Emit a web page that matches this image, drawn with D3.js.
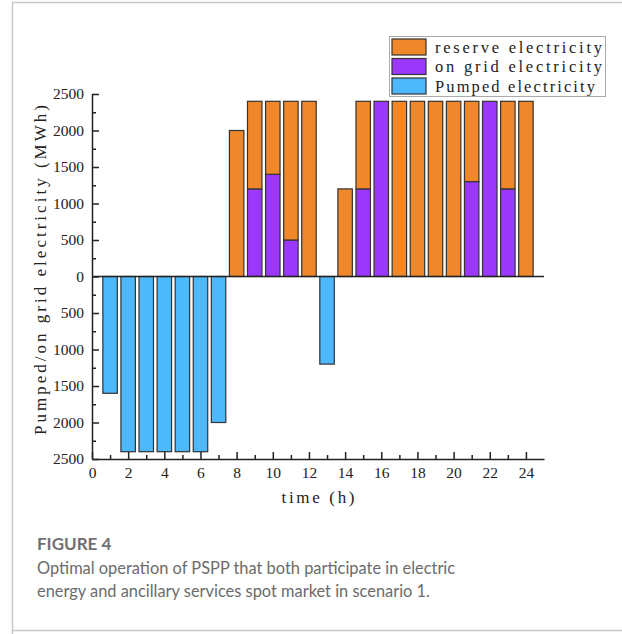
<!DOCTYPE html>
<html>
<head>
<meta charset="utf-8">
<script src="https://cdn.jsdelivr.net/npm/d3@7"></script>
<style>
  body { margin: 0; background: #fff; }
  svg { display: block; }
</style>
</head>
<body>
<svg id="chart" width="622" height="634"></svg>
<script>
// hourly values (MWh)
var hours = [1, 2, 3, 4, 5, 6, 7, 8, 9, 10, 11, 12, 13, 14, 15, 16, 17, 18, 19, 20, 21, 22, 23, 24];
var pumped = [-1600, -2400, -2400, -2400, -2400, -2400, -2000, 0, 0, 0, 0, 0, -1200, 0, 0, 0, 0, 0, 0, 0, 0, 0, 0, 0];
var onGrid = [0, 0, 0, 0, 0, 0, 0, 0, 1200, 1400, 500, 0, 0, 0, 1200, 2400, 0, 0, 0, 0, 1300, 2400, 1200, 0];
var reserve = [0, 0, 0, 0, 0, 0, 0, 2000, 1200, 1000, 1900, 2400, 0, 1200, 1200, 0, 2400, 2400, 2400, 2400, 1100, 0, 1200, 2400];
var xTicks = [0, 2, 4, 6, 8, 10, 12, 14, 16, 18, 20, 22, 24];
var yTicks = [-2500, -2000, -1500, -1000, -500, 0, 500, 1000, 1500, 2000, 2500];
var legendNames = ["reserve electricity", "on grid electricity", "Pumped electricity"];

var colors = { reserve: "#F0872A", onGrid: "#9B38FB", pumped: "#4DB8FC" };
var serifFont = "'Liberation Serif', 'DejaVu Serif', serif";

var svg = d3.select("#chart");

// figure frame
svg.append("path")
    .attr("d", "M12.5,634 V2.5 H622 M12.5,630.5 H622")
    .attr("fill", "none")
    .attr("stroke", "#c8c8c8")
    .attr("stroke-width", 1.5);

var x = d3.scaleLinear().domain([0, 25]).range([92, 544]);
var y = d3.scaleLinear().domain([-2500, 2500]).range([459, 94]);
var barW = x(0.8) - x(0);

var rows = hours.map(function(h, i) {
    return { hour: h, onGrid: onGrid[i], reserve: reserve[i], pumped: pumped[i] };
});
var stacked = d3.stack().keys(["onGrid", "reserve"])(rows);

var bars = svg.append("g").attr("stroke", "#333").attr("stroke-width", 1.2);

stacked.forEach(function(layer) {
    bars.selectAll(null)
        .data(layer.filter(d => d[1] - d[0] > 0))
        .enter().append("rect")
        .attr("x", d => x(d.data.hour) - barW / 2)
        .attr("width", barW)
        .attr("y", d => y(d[1]))
        .attr("height", d => y(d[0]) - y(d[1]))
        .attr("fill", colors[layer.key]);
});

bars.selectAll(null)
    .data(rows.filter(d => d.pumped < 0))
    .enter().append("rect")
    .attr("x", d => x(d.hour) - barW / 2)
    .attr("width", barW)
    .attr("y", y(0))
    .attr("height", d => y(d.pumped) - y(0))
    .attr("fill", colors.pumped);

// zero line
svg.append("line")
    .attr("x1", x(0)).attr("x2", x(25))
    .attr("y1", y(0)).attr("y2", y(0))
    .attr("stroke", "#222").attr("stroke-width", 1.5);

// y axis, ticks point inward
svg.append("g")
    .attr("transform", "translate(" + x(0) + ",0)")
    .call(d3.axisLeft(y).tickValues(yTicks).tickSizeInner(-7).tickSizeOuter(0)
        .tickPadding(8).tickFormat(d => Math.abs(d)));
svg.append("g")
    .attr("transform", "translate(" + x(0) + ",0)")
    .call(d3.axisLeft(y).tickValues(d3.range(-2250, 2500, 500)).tickSize(-4).tickFormat(""))
    .select(".domain").remove();

// x axis at the bottom
svg.append("g")
    .attr("transform", "translate(0," + y(-2500) + ")")
    .call(d3.axisBottom(x).tickValues(xTicks).tickSizeInner(-7).tickSizeOuter(0).tickPadding(8));
svg.append("g")
    .attr("transform", "translate(0," + y(-2500) + ")")
    .call(d3.axisBottom(x).tickValues(d3.range(1, 25, 2)).tickSize(-4).tickFormat(""))
    .select(".domain").remove();

svg.selectAll(".domain, .tick line").attr("stroke", "#222").attr("stroke-width", 1.5);
svg.selectAll(".tick text").attr("font-family", serifFont).attr("font-size", 15.5).attr("fill", "#222");

// axis titles
svg.append("text")
    .attr("x", 318).attr("y", 503)
    .attr("text-anchor", "middle")
    .attr("font-family", serifFont).attr("font-size", 17).attr("fill", "#222")
    .attr("textLength", 73).attr("lengthAdjust", "spacing")
    .text("time (h)");

svg.append("text")
    .attr("transform", "translate(46,270) rotate(-90)")
    .attr("text-anchor", "middle")
    .attr("font-family", serifFont).attr("font-size", 17).attr("fill", "#222")
    .attr("textLength", 330).attr("lengthAdjust", "spacing")
    .text("Pumped/on grid electricity (MWh)");

// legend
var legend = svg.append("g");
legend.append("rect")
    .attr("x", 389.5).attr("y", 36.5).attr("width", 216).attr("height", 60)
    .attr("fill", "#fff").attr("stroke", "#aaa");
var legendColors = [colors.reserve, colors.onGrid, colors.pumped];
var legendWidths = [167, 167, 160];
legendNames.forEach(function(name, i) {
    legend.append("rect")
        .attr("x", 392).attr("y", 39 + i * 19.5).attr("width", 34).attr("height", 16)
        .attr("fill", legendColors[i]).attr("stroke", "#333").attr("stroke-width", 1.2);
    legend.append("text")
        .attr("x", 435).attr("y", 52.5 + i * 19.5)
        .attr("font-family", serifFont).attr("font-size", 16.5).attr("fill", "#222")
        .attr("textLength", legendWidths[i]).attr("lengthAdjust", "spacing")
        .text(name);
});

// caption
var capFont = "Lato, 'Open Sans', sans-serif";
svg.append("text")
    .attr("x", 37).attr("y", 550)
    .attr("font-family", capFont).attr("font-size", 17).attr("font-weight", 700).attr("fill", "#707070")
    .text("FIGURE 4");
svg.append("text")
    .attr("x", 37).attr("y", 574)
    .attr("font-family", capFont).attr("font-size", 16.4).attr("fill", "#6b6b6b")
    .text("Optimal operation of PSPP that both participate in electric");
svg.append("text")
    .attr("x", 37).attr("y", 597)
    .attr("font-family", capFont).attr("font-size", 16.4).attr("fill", "#6b6b6b")
    .text("energy and ancillary services spot market in scenario 1.");
</script>
</body>
</html>
